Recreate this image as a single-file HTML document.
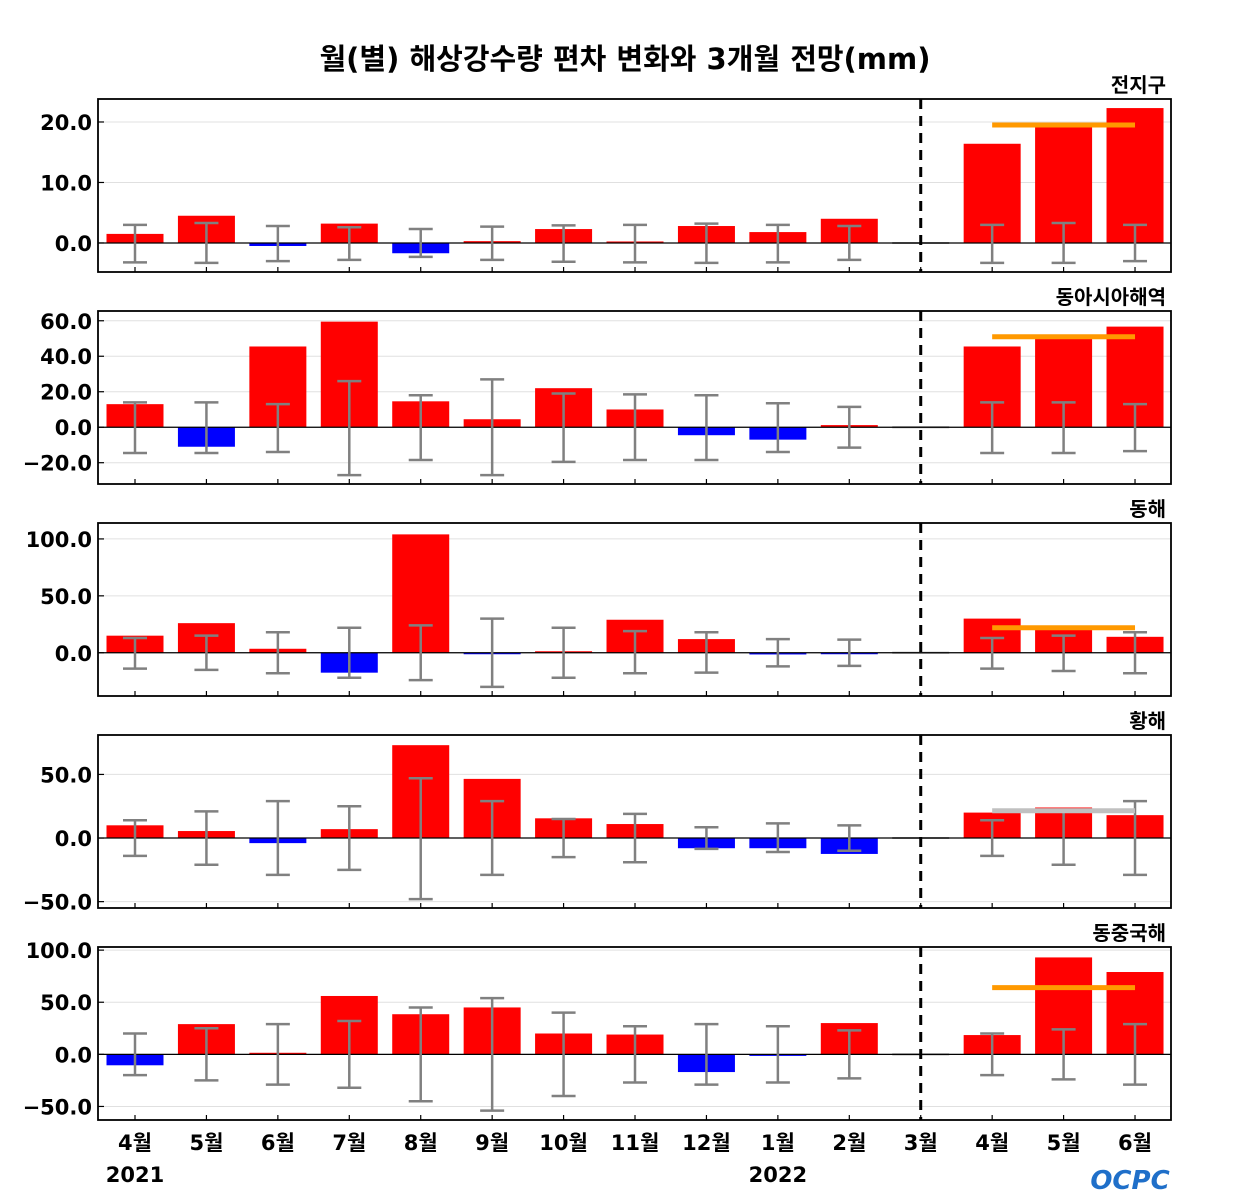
<!DOCTYPE html>
<html><head><meta charset="utf-8">
<style>
html,body{margin:0;padding:0;background:#fff;}
svg{display:block;font-family:"DejaVu Sans","Noto Sans CJK KR",sans-serif;}
</style></head>
<body>
<svg id="chart" width="1250" height="1200"></svg>
<script>
const categories=["4월","5월","6월","7월","8월","9월","10월","11월","12월","1월","2월","3월","4월","5월","6월"];
const panelNames=["전지구","동아시아해역","동해","황해","동중국해"];
const v0=[1.5,4.5,-0.5,3.2,-1.7,0.3,2.3,0.1,2.8,1.8,4.0,0,16.4,19.7,22.3];
const v1=[13,-11,45.5,59.5,14.6,4.5,22,10,-4.5,-7,1.2,0,45.5,52,56.7];
const v2=[15,26,3.5,-17.5,104,-1,0.3,29,12,-1.5,-1,0,30,22,14];
const v3=[10,5.5,-4,7,73,46.5,15.5,11,-8,-8,-12.5,0,20,24,18];
const v4=[-10.5,29,1.5,56,38.5,45,20,19,-17,-1.5,30,0,18.5,93,79];
const eu0=[3,3.3,2.8,2.6,2.3,2.7,2.9,3,3.2,3,2.8,null,3,3.3,3];
const el0=[-3.2,-3.3,-3,-2.8,-2.3,-2.8,-3.1,-3.2,-3.3,-3.2,-2.8,null,-3.3,-3.3,-3];
const eu1=[14,14,13,26,18,27,19,18.5,18,13.5,11.5,null,14,14,13];
const el1=[-14.5,-14.5,-14,-27,-18.5,-27,-19.5,-18.5,-18.5,-14,-11.5,null,-14.5,-14.5,-13.5];
const eu2=[13,15,18,22,24,30,22,19,18,12,11.5,null,13,15,18];
const el2=[-14,-15,-18,-22,-24,-30,-22,-18,-17.5,-12,-11.5,null,-14,-16,-18];
const eu3=[14,21,29,25,47,29,15,19,8.5,11.5,10,null,14,21,29];
const el3=[-14,-21,-29,-25,-48,-29,-15,-19,-8.5,-11,-10,null,-14,-21,-29];
const eu4=[20,25,29,32,45,54,40,27,29,27,23,null,20,24,29];
const el4=[-20,-25,-29,-32,-45,-54,-40,-27,-29,-27,-23,null,-20,-24,-29];
const outlook=[19.5,51,22,21.5,64];
const outlookColor=["#ff9900","#ff9900","#ff9900","#c0c0c0","#ff9900"];
const ticks0=[0,10,20],ticks1=[-20,0,20,40,60],ticks2=[0,50,100],ticks3=[-50,0,50],ticks4=[-50,0,50,100];
const domains=[[-4.8,23.8],[-32,65.5],[-38,114],[-55,81],[-63,103]];
const tops=[99,311,523,735,947];
const vals=[v0,v1,v2,v3,v4],eus=[eu0,eu1,eu2,eu3,eu4],els=[el0,el1,el2,el3,el4],tickSets=[ticks0,ticks1,ticks2,ticks3,ticks4];

const NS="http://www.w3.org/2000/svg";
const svg=document.getElementById("chart");
function mk(tag,attrs,parent){const e=document.createElementNS(NS,tag);for(const k in attrs)e.setAttribute(k,attrs[k]);(parent||svg).appendChild(e);return e;}
const L=98,R=1171,H=173;
const xc=i=>135+i*71.43;
const bw=57;

let t=mk("text",{x:625,y:69,"text-anchor":"middle","font-size":29,"font-weight":"bold"});
t.textContent="월(별) 해상강수량 편차 변화와 3개월 전망(mm)";



for(let p=0;p<5;p++){
  const top=tops[p],bot=top+H,[d0,d1]=domains[p];
  const y=v=>bot-(v-d0)/(d1-d0)*H;
  const g=mk("g",{});
  
  
  tickSets[p].forEach(tv=>{
    mk("line",{x1:L,x2:R,y1:y(tv),y2:y(tv),stroke:"#e0e0e0","stroke-width":1},g);
    mk("line",{x1:L,x2:L+6,y1:y(tv),y2:y(tv),stroke:"#000","stroke-width":1.2},g);
    const lb=mk("text",{x:92,y:y(tv)+8,"text-anchor":"end","font-size":21,"font-weight":"bold"},g);
    lb.textContent=(tv<0?"−"+(-tv).toFixed(1):tv.toFixed(1));
    
    
  });
  const v=vals[p];
  for(let i=0;i<15;i++){
    const val=v[i];
    if(val===0){mk("line",{x1:xc(i)-bw/2,x2:xc(i)+bw/2,y1:y(0),y2:y(0),stroke:"#999","stroke-width":2},g);continue;}
    let h=Math.abs(y(val)-y(0));if(h<1.5)h=1.5;
    const r=mk("rect",{x:xc(i)-bw/2,y:val>0?y(0)-h:y(0),width:bw,height:h,fill:val>0?"#ff0000":"#0000ff"},g);
    
    
  }
  mk("line",{x1:L,x2:R,y1:y(0),y2:y(0),stroke:"#000","stroke-width":1.2},g);
  for(let i=0;i<15;i++){
    if(eus[p][i]===null)continue;
    const a=y(eus[p][i]),b=y(els[p][i]),x=xc(i);
    const eb=mk("g",{stroke:"#808080","stroke-width":2.5},g);
    
    
    mk("line",{x1:x,x2:x,y1:a,y2:b},eb);
    mk("line",{x1:x-12,x2:x+12,y1:a,y2:a},eb);
    mk("line",{x1:x-12,x2:x+12,y1:b,y2:b},eb);
  }
  const ol=mk("line",{x1:xc(12),x2:xc(14),y1:y(outlook[p]),y2:y(outlook[p]),stroke:outlookColor[p],"stroke-width":5},g);
  
  
  for(let i=0;i<15;i++)mk("line",{x1:xc(i),x2:xc(i),y1:bot,y2:bot-5,stroke:"#000","stroke-width":1.2},g);
  mk("line",{x1:xc(11),x2:xc(11),y1:top,y2:bot,stroke:"#000","stroke-width":3,"stroke-dasharray":"10,7"},g);
  const fr=mk("rect",{x:L,y:top,width:R-L,height:H,fill:"none",stroke:"#000","stroke-width":1.8},g);
  
  
  const pt=mk("text",{x:1166,y:top-7,"text-anchor":"end","font-size":20,"font-weight":"bold"},g);
  pt.textContent=panelNames[p];
  
  
}
categories.forEach((c,i)=>{
  const tx=mk("text",{x:xc(i),y:1150,"text-anchor":"middle","font-size":21,"font-weight":"bold"});
  tx.textContent=c;
  
  
});
[["2021",0],["2022",9]].forEach(([s,i])=>{
  const tx=mk("text",{x:xc(i),y:1182,"text-anchor":"middle","font-size":21,"font-weight":"bold"});
  tx.textContent=s;
  
  
});
const logo=mk("text",{x:1130,y:1189,"text-anchor":"middle","font-size":26,"font-weight":"bold",fill:"#1f6fc9","font-style":"italic"});
logo.textContent="OCPC";


</script>
</body></html>
